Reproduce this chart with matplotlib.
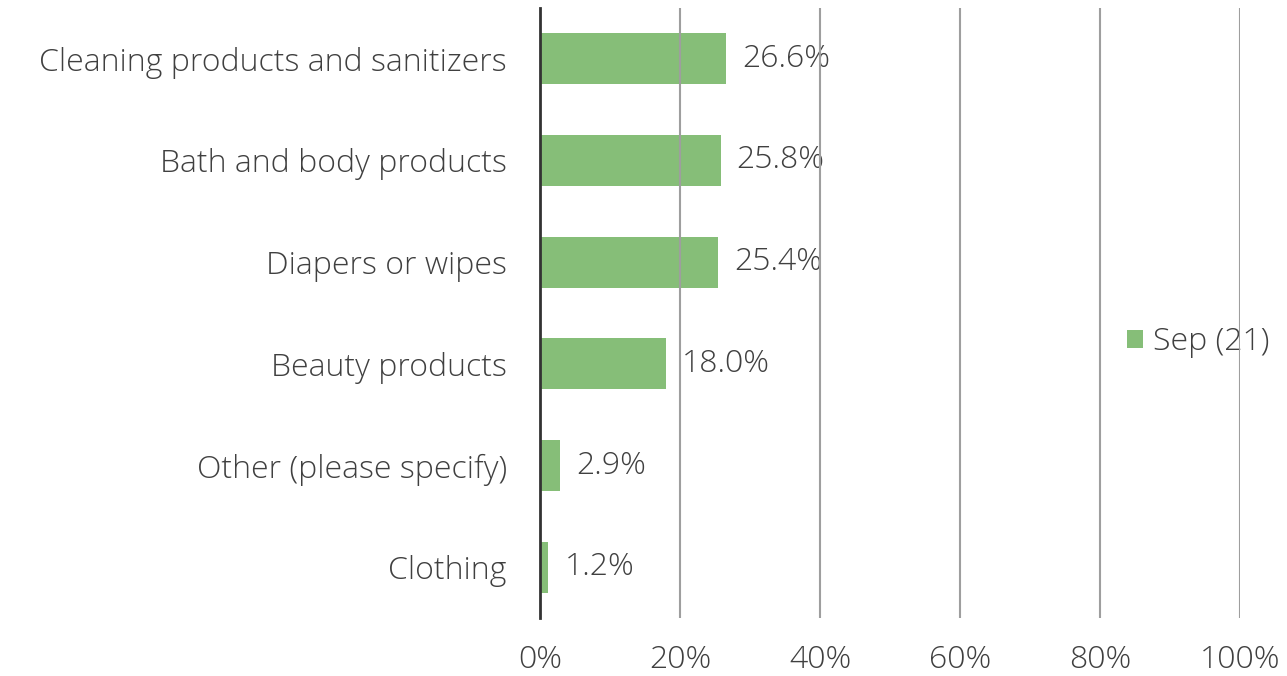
import matplotlib.pyplot as plt
from matplotlib.ticker import PercentFormatter

categories = ["Cleaning products and sanitizers", "Bath and body products",
              "Diapers or wipes", "Beauty products",
              "Other (please specify)", "Clothing"]
values = [26.6, 25.8, 25.4, 18.0, 2.9, 1.2]
series_name = "Sep (21)"
x_ticks = [0, 20, 40, 60, 80, 100]

text_color = "#404040"
bar_color = "#7cb96c"
fs = 23

plt.rcParams["font.family"] = ["Open Sans", "DejaVu Sans"]
plt.rcParams["font.weight"] = "light"

fig = plt.figure(figsize=(12.87, 6.76), dpi=100)
ax = fig.add_axes([540 / 1287, 1 - 618 / 676, 700 / 1287, 610 / 676])

pos = list(range(len(categories)))
bars = ax.barh(pos, values, height=0.5, color=bar_color, alpha=0.92,
               zorder=1, label=series_name)

for p, v in zip(pos, values):
    ax.text(v + 2.3, p, f"{v:.1f}%", va="center", ha="left",
            fontsize=fs, color=text_color, zorder=2)

ax.set_ylim(len(categories) - 0.5, -0.5)
ax.set_xlim(0, 100)
ax.set_yticks(pos)
ax.set_yticklabels(categories, fontsize=fs, color=text_color)
ax.set_xticks(x_ticks)
ax.xaxis.set_major_formatter(PercentFormatter(decimals=0))
ax.tick_params(axis="both", length=0, labelsize=fs, colors=text_color)
ax.tick_params(axis="x", pad=19)
ax.tick_params(axis="y", pad=24)

ax.set_axisbelow(False)
ax.grid(axis="x", color="#9e9e9e", linewidth=1.5)
ax.grid(axis="y", visible=False)
for side in ["top", "right", "bottom"]:
    ax.spines[side].set_visible(False)
ax.spines["left"].set_color("#333333")
ax.spines["left"].set_linewidth(2)
ax.spines["left"].set_zorder(3)

leg = ax.legend(loc="center left", bbox_to_anchor=(1127 / 1287, 1 - 342 / 676),
                bbox_transform=fig.transFigure, frameon=False, fontsize=fs,
                borderpad=0, borderaxespad=0,
                handlelength=0.5, handleheight=0.5, handletextpad=0.32,
                labelcolor=text_color)
leg.set_zorder(2)

fig.savefig("out.png", dpi=100)
